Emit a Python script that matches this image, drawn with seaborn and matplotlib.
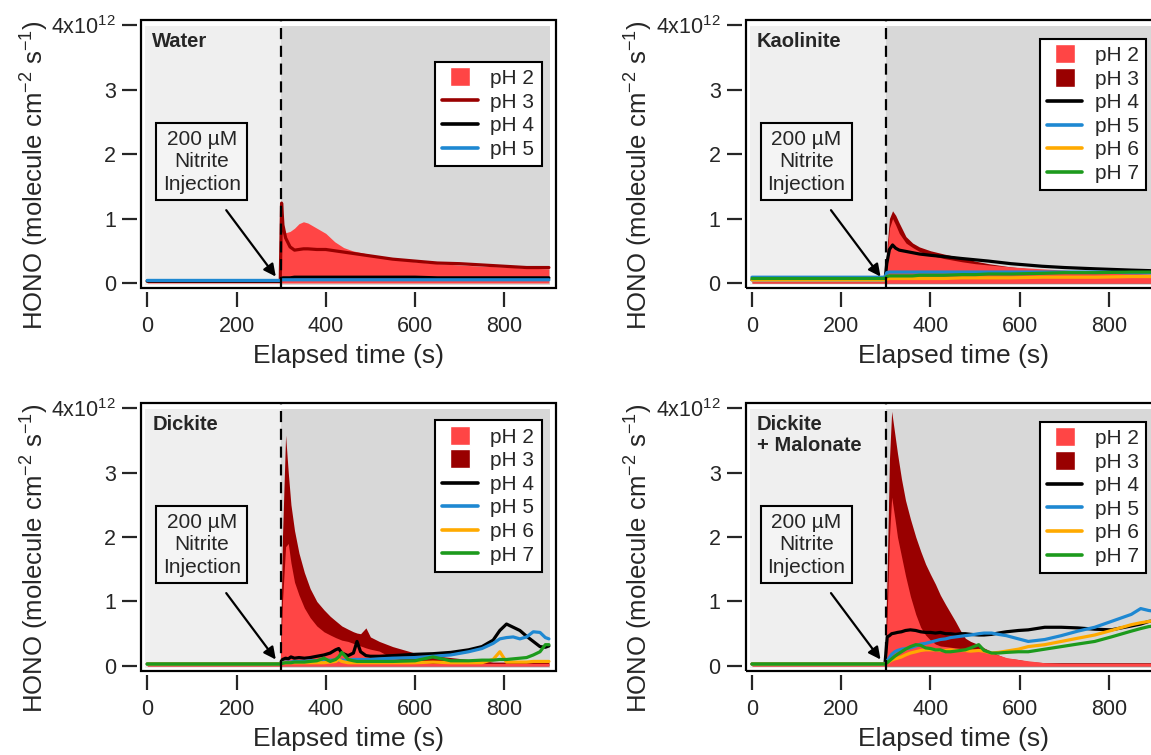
import seaborn as sns
import matplotlib.pyplot as plt
import matplotlib.patches as mpatches
from matplotlib.lines import Line2D
from matplotlib.legend_handler import HandlerPatch

# HONO flux values in units of 1e12 molecule cm-2 s-1

# Water
water_t = [0, 100, 200, 298, 301, 304, 310, 320, 330, 340, 350, 360, 380, 400,
           420, 440, 460, 480, 500, 550, 600, 650, 700, 750, 800, 850, 900]
water_ph2 = [0.03, 0.03, 0.03, 0.03, 0.85, 0.80, 0.78, 0.80, 0.85, 0.92, 0.95, 0.93, 0.85, 0.77,
             0.64, 0.55, 0.50, 0.47, 0.44, 0.37, 0.33, 0.30, 0.28, 0.26, 0.25, 0.23, 0.22]
water_ph3 = [0.03, 0.03, 0.03, 0.03, 1.24, 0.90, 0.70, 0.56, 0.51, 0.52, 0.53, 0.53, 0.52, 0.52,
             0.50, 0.48, 0.46, 0.44, 0.42, 0.37, 0.34, 0.31, 0.30, 0.28, 0.26, 0.24, 0.24]
water_ph4 = [0.03, 0.03, 0.03, 0.03, 0.07, 0.08, 0.08, 0.08, 0.09, 0.09, 0.09, 0.09, 0.09, 0.09,
             0.09, 0.09, 0.09, 0.09, 0.09, 0.09, 0.09, 0.08, 0.08, 0.08, 0.08, 0.08, 0.08]
water_ph5 = [0.04, 0.04, 0.04, 0.04, 0.05, 0.05, 0.05, 0.05, 0.05, 0.05, 0.05, 0.05, 0.05, 0.05,
             0.05, 0.05, 0.05, 0.05, 0.05, 0.05, 0.05, 0.05, 0.05, 0.05, 0.05, 0.05, 0.05]

# Kaolinite
kaol_t = [0, 100, 200, 298, 302, 308, 315, 322, 330, 345, 360, 375, 400, 430,
          470, 500, 530, 580, 650, 700, 770, 850, 900]
kaol_ph2 = [0.02, 0.02, 0.02, 0.02, 0.40, 0.85, 1.00, 0.90, 0.77, 0.62, 0.55, 0.49, 0.43, 0.38,
            0.33, 0.30, 0.28, 0.25, 0.22, 0.20, 0.17, 0.15, 0.14]
kaol_ph3 = [0.02, 0.02, 0.02, 0.02, 0.50, 1.00, 1.12, 1.05, 0.93, 0.72, 0.62, 0.56, 0.50, 0.45,
            0.39, 0.34, 0.30, 0.25, 0.20, 0.18, 0.15, 0.12, 0.10]
kaol_ph4 = [0.05, 0.05, 0.05, 0.05, 0.30, 0.52, 0.59, 0.54, 0.51, 0.49, 0.47, 0.45, 0.43, 0.41,
            0.38, 0.36, 0.34, 0.30, 0.26, 0.24, 0.22, 0.20, 0.19]
kaol_ph5 = [0.09, 0.09, 0.09, 0.09, 0.16, 0.17, 0.17, 0.17, 0.17, 0.17, 0.17, 0.17, 0.17, 0.17,
            0.17, 0.17, 0.17, 0.17, 0.17, 0.17, 0.17, 0.16, 0.16]
kaol_ph6 = [0.05, 0.05, 0.05, 0.05, 0.06, 0.07, 0.07, 0.07, 0.07, 0.07, 0.07, 0.07, 0.07, 0.07,
            0.08, 0.08, 0.08, 0.08, 0.09, 0.09, 0.09, 0.10, 0.10]
kaol_ph7 = [0.07, 0.07, 0.07, 0.07, 0.10, 0.11, 0.11, 0.11, 0.11, 0.11, 0.11, 0.12, 0.12, 0.12,
            0.13, 0.13, 0.14, 0.14, 0.15, 0.16, 0.16, 0.17, 0.17]

# Dickite
dick_t = [0, 100, 200, 298, 303, 310, 316, 322, 330, 340, 352, 365, 380, 396,
          410, 422, 429, 436, 450, 462, 470, 478, 490, 500, 520, 550, 600, 640,
          680, 720, 750, 775, 790, 805, 820, 835, 850, 865, 880, 892, 900]
dick_ph2 = [0.02, 0.02, 0.02, 0.02, 1.00, 1.85, 1.90, 1.60, 1.30, 1.10, 0.90, 0.75, 0.62, 0.53,
            0.48, 0.44, 0.42, 0.40, 0.38, 0.35, 0.33, 0.31, 0.28, 0.26, 0.23, 0.12, 0.06, 0.04,
            0.04, 0.04, 0.04, 0.04, 0.04, 0.04, 0.04, 0.04, 0.04, 0.04, 0.04, 0.04, 0.04]
dick_ph3 = [0.03, 0.03, 0.03, 0.03, 2.00, 3.58, 3.00, 2.50, 2.10, 1.75, 1.45, 1.20, 1.00, 0.87,
            0.77, 0.70, 0.66, 0.62, 0.57, 0.53, 0.51, 0.50, 0.59, 0.45, 0.38, 0.30, 0.20, 0.16,
            0.13, 0.10, 0.08, 0.06, 0.06, 0.06, 0.06, 0.06, 0.06, 0.06, 0.06, 0.06, 0.06]
dick_ph4 = [0.03, 0.03, 0.03, 0.03, 0.10, 0.12, 0.11, 0.14, 0.12, 0.13, 0.12, 0.13, 0.15, 0.17,
            0.20, 0.25, 0.27, 0.20, 0.16, 0.20, 0.38, 0.22, 0.16, 0.15, 0.15, 0.16, 0.18, 0.19,
            0.21, 0.25, 0.30, 0.40, 0.55, 0.65, 0.60, 0.55, 0.46, 0.38, 0.30, 0.29, 0.31]
dick_ph5 = [0.03, 0.03, 0.03, 0.03, 0.05, 0.06, 0.06, 0.06, 0.07, 0.07, 0.07, 0.08, 0.08, 0.08,
            0.09, 0.09, 0.09, 0.09, 0.09, 0.10, 0.10, 0.10, 0.10, 0.10, 0.11, 0.12, 0.13, 0.15,
            0.17, 0.22, 0.27, 0.35, 0.42, 0.44, 0.45, 0.42, 0.45, 0.53, 0.52, 0.44, 0.42]
dick_ph6 = [0.03, 0.03, 0.03, 0.03, 0.04, 0.05, 0.05, 0.05, 0.05, 0.05, 0.05, 0.05, 0.05, 0.05,
            0.06, 0.07, 0.10, 0.07, 0.05, 0.05, 0.05, 0.05, 0.05, 0.05, 0.05, 0.05, 0.05, 0.06,
            0.05, 0.05, 0.05, 0.10, 0.22, 0.06, 0.06, 0.06, 0.06, 0.07, 0.07, 0.07, 0.07]
dick_ph7 = [0.03, 0.03, 0.03, 0.03, 0.04, 0.05, 0.05, 0.05, 0.06, 0.06, 0.06, 0.07, 0.08, 0.12,
            0.07, 0.10, 0.14, 0.21, 0.10, 0.08, 0.07, 0.07, 0.07, 0.07, 0.07, 0.07, 0.08, 0.14,
            0.08, 0.08, 0.09, 0.09, 0.10, 0.10, 0.11, 0.12, 0.13, 0.17, 0.22, 0.33, 0.33]

# Dickite + Malonate
mal_t = [0, 100, 200, 298, 303, 308, 313, 320, 326, 335, 344, 355, 367, 378,
         389, 400, 411, 422, 434, 445, 456, 467, 478, 490, 508, 520, 537, 552,
         570, 597, 619, 656, 693, 730, 768, 805, 850, 871, 889, 900]
mal_ph2 = [0.03, 0.03, 0.03, 0.03, 0.80, 2.00, 2.62, 2.30, 2.00, 1.70, 1.40, 1.08, 0.80, 0.60,
           0.48, 0.40, 0.34, 0.31, 0.30, 0.29, 0.28, 0.27, 0.27, 0.26, 0.25, 0.23, 0.20, 0.17,
           0.13, 0.10, 0.08, 0.05, 0.04, 0.04, 0.04, 0.04, 0.04, 0.04, 0.04, 0.04]
mal_ph3 = [0.03, 0.03, 0.03, 0.03, 1.50, 3.20, 3.95, 3.60, 3.30, 2.90, 2.57, 2.28, 2.00, 1.78,
           1.58, 1.42, 1.27, 1.10, 0.95, 0.82, 0.69, 0.55, 0.43, 0.38, 0.33, 0.28, 0.22, 0.17,
           0.12, 0.10, 0.07, 0.05, 0.05, 0.05, 0.05, 0.05, 0.05, 0.05, 0.05, 0.05]
mal_ph4 = [0.03, 0.03, 0.03, 0.03, 0.45, 0.47, 0.50, 0.51, 0.52, 0.53, 0.55, 0.56, 0.55, 0.53,
           0.52, 0.52, 0.51, 0.52, 0.50, 0.50, 0.49, 0.50, 0.50, 0.49, 0.48, 0.48, 0.49, 0.51,
           0.53, 0.55, 0.56, 0.60, 0.60, 0.59, 0.57, 0.56, 0.62, 0.65, 0.69, 0.70]
mal_ph5 = [0.03, 0.03, 0.03, 0.03, 0.08, 0.13, 0.18, 0.22, 0.24, 0.26, 0.27, 0.28, 0.31, 0.34,
           0.35, 0.37, 0.39, 0.41, 0.42, 0.44, 0.45, 0.46, 0.47, 0.48, 0.50, 0.51, 0.51, 0.49,
           0.47, 0.42, 0.38, 0.41, 0.47, 0.54, 0.60, 0.69, 0.80, 0.89, 0.86, 0.85]
mal_ph6 = [0.03, 0.03, 0.03, 0.03, 0.05, 0.07, 0.09, 0.11, 0.12, 0.14, 0.17, 0.20, 0.22, 0.24,
           0.25, 0.25, 0.25, 0.24, 0.24, 0.25, 0.24, 0.24, 0.24, 0.23, 0.24, 0.23, 0.20, 0.21,
           0.23, 0.26, 0.30, 0.33, 0.38, 0.43, 0.48, 0.55, 0.64, 0.67, 0.69, 0.70]
mal_ph7 = [0.03, 0.03, 0.03, 0.03, 0.05, 0.08, 0.11, 0.15, 0.18, 0.22, 0.26, 0.30, 0.33, 0.32,
           0.28, 0.27, 0.25, 0.25, 0.22, 0.22, 0.23, 0.24, 0.25, 0.28, 0.33, 0.24, 0.20, 0.20,
           0.21, 0.22, 0.22, 0.26, 0.30, 0.34, 0.38, 0.45, 0.54, 0.58, 0.61, 0.62]

RED = '#ff4545'
DARKRED = '#990000'
BLUE = '#1e88d2'
ORANGE = '#ffaa00'
GREEN = '#1c9a1c'
LIGHT_BG = '#efefef'
DARK_BG = '#d8d8d8'

sns.set_style('ticks')
plt.rcParams['font.family'] = ['Liberation Sans', 'DejaVu Sans']
plt.rcParams['mathtext.fontset'] = 'custom'
plt.rcParams['mathtext.rm'] = 'Liberation Sans'
plt.rcParams['mathtext.it'] = 'Liberation Sans:italic'
plt.rcParams['mathtext.bf'] = 'Liberation Sans:bold'


def small_square(legend, orig_handle, xdescent, ydescent, width, height, fontsize):
    return mpatches.Rectangle((-xdescent + 0.22 * width, -ydescent - 0.15 * height),
                              0.56 * width, 1.3 * height)


def draw_panel(ax, name, t, fills, lines, legend_y):
    # shaded background before / after injection
    ax.fill_between([-5, 300], -0.03, 3.98, color=LIGHT_BG, lw=0, zorder=0)
    ax.fill_between([300, 902], -0.03, 3.98, color=DARK_BG, lw=0, zorder=0)

    handles = []
    for label, vals, color in fills:
        ax.fill_between(t, 0, vals, color=color, lw=0, zorder=2)
        handles.append((label, mpatches.Patch(facecolor=color, label=label)))
    for label, vals, color in lines:
        sns.lineplot(x=t, y=vals, color=color, lw=2.3, ax=ax, zorder=3)
        handles.append((label, Line2D([], [], color=color, lw=2.6, label=label)))
    handles = [h for _, h in sorted(handles, key=lambda p: p[0])]

    ax.axvline(300, color='k', lw=1.6, ls=(0, (5, 3)), zorder=5)

    ax.set_xlim(-14, 916)
    ax.set_ylim(-0.078, 4.08)
    ax.set_xticks([0, 200, 400, 600, 800])
    ax.set_yticks([0, 1, 2, 3, 4])
    ax.set_yticklabels(['0', '1', '2', '3', r'4x10$^{12}$'])
    ax.tick_params(length=11, width=1.6, direction='out', pad=4, labelsize=15.5)
    ax.tick_params(axis='x', pad=6)
    ax.get_yticklabels()[-1].set_fontsize(12.5)

    for side in ['top', 'right', 'left', 'bottom']:
        ax.spines[side].set_visible(False)
    ax.spines['left'].set_position(('outward', 3))
    ax.spines['bottom'].set_position(('outward', 3))
    ax.add_patch(mpatches.Rectangle((0, 0), 1, 1, transform=ax.transAxes, fill=False,
                                    ec='k', lw=1.6, clip_on=False, zorder=10))

    ax.set_xlabel('Elapsed time (s)', fontsize=19, labelpad=5)
    ax.set_ylabel('HONO (molecule cm$^{-2}$ s$^{-1}$)', fontsize=18.5)
    ax.yaxis.set_label_coords(-0.218, 0.42)

    ax.text(0.027, 0.955, name, transform=ax.transAxes, fontsize=14.5,
            fontweight='bold', va='top', ha='left', linespacing=1.1, zorder=6)

    ax.text(122, 1.88, '200 µM\nNitrite\nInjection', ha='center', va='center',
            fontsize=15, linespacing=1.25, zorder=6,
            bbox=dict(boxstyle='square,pad=0.3', fc='#f4f4f4', ec='k', lw=1.5))
    ax.annotate('', xy=(288, 0.1), xytext=(177, 1.13), zorder=6,
                arrowprops=dict(arrowstyle='-|>', color='k', lw=1.6,
                                mutation_scale=18, shrinkA=0, shrinkB=0))

    leg = ax.legend(handles=handles, loc='upper right', bbox_to_anchor=(0.965, legend_y),
                    borderaxespad=0, frameon=True, fancybox=False, edgecolor='k',
                    framealpha=1, fontsize=15, handlelength=1.7, handletextpad=0.6,
                    labelspacing=0.22, borderpad=0.35,
                    handler_map={mpatches.Patch: HandlerPatch(patch_func=small_square)})
    leg.get_frame().set_linewidth(1.5)
    leg.set_zorder(20)


fig = plt.figure(figsize=(11.51, 7.55), dpi=100)
ax_w = fig.add_axes([0.1225, 0.6185, 0.3606, 0.355])
ax_k = fig.add_axes([0.6479, 0.6185, 0.3606, 0.355])
ax_d = fig.add_axes([0.1225, 0.1113, 0.3606, 0.355])
ax_m = fig.add_axes([0.6479, 0.1113, 0.3606, 0.355])

draw_panel(ax_w, 'Water', water_t,
           [('pH 2', water_ph2, RED)],
           [('pH 3', water_ph3, DARKRED), ('pH 4', water_ph4, 'k'), ('pH 5', water_ph5, BLUE)],
           0.844)
draw_panel(ax_k, 'Kaolinite', kaol_t,
           [('pH 3', kaol_ph3, DARKRED), ('pH 2', kaol_ph2, RED)],
           [('pH 4', kaol_ph4, 'k'), ('pH 5', kaol_ph5, BLUE),
            ('pH 6', kaol_ph6, ORANGE), ('pH 7', kaol_ph7, GREEN)],
           0.93)
draw_panel(ax_d, 'Dickite', dick_t,
           [('pH 3', dick_ph3, DARKRED), ('pH 2', dick_ph2, RED)],
           [('pH 4', dick_ph4, 'k'), ('pH 5', dick_ph5, BLUE),
            ('pH 6', dick_ph6, ORANGE), ('pH 7', dick_ph7, GREEN)],
           0.935)
draw_panel(ax_m, 'Dickite\n+ Malonate', mal_t,
           [('pH 3', mal_ph3, DARKRED), ('pH 2', mal_ph2, RED)],
           [('pH 4', mal_ph4, 'k'), ('pH 5', mal_ph5, BLUE),
            ('pH 6', mal_ph6, ORANGE), ('pH 7', mal_ph7, GREEN)],
           0.93)

fig.savefig('out.png', dpi=100)
